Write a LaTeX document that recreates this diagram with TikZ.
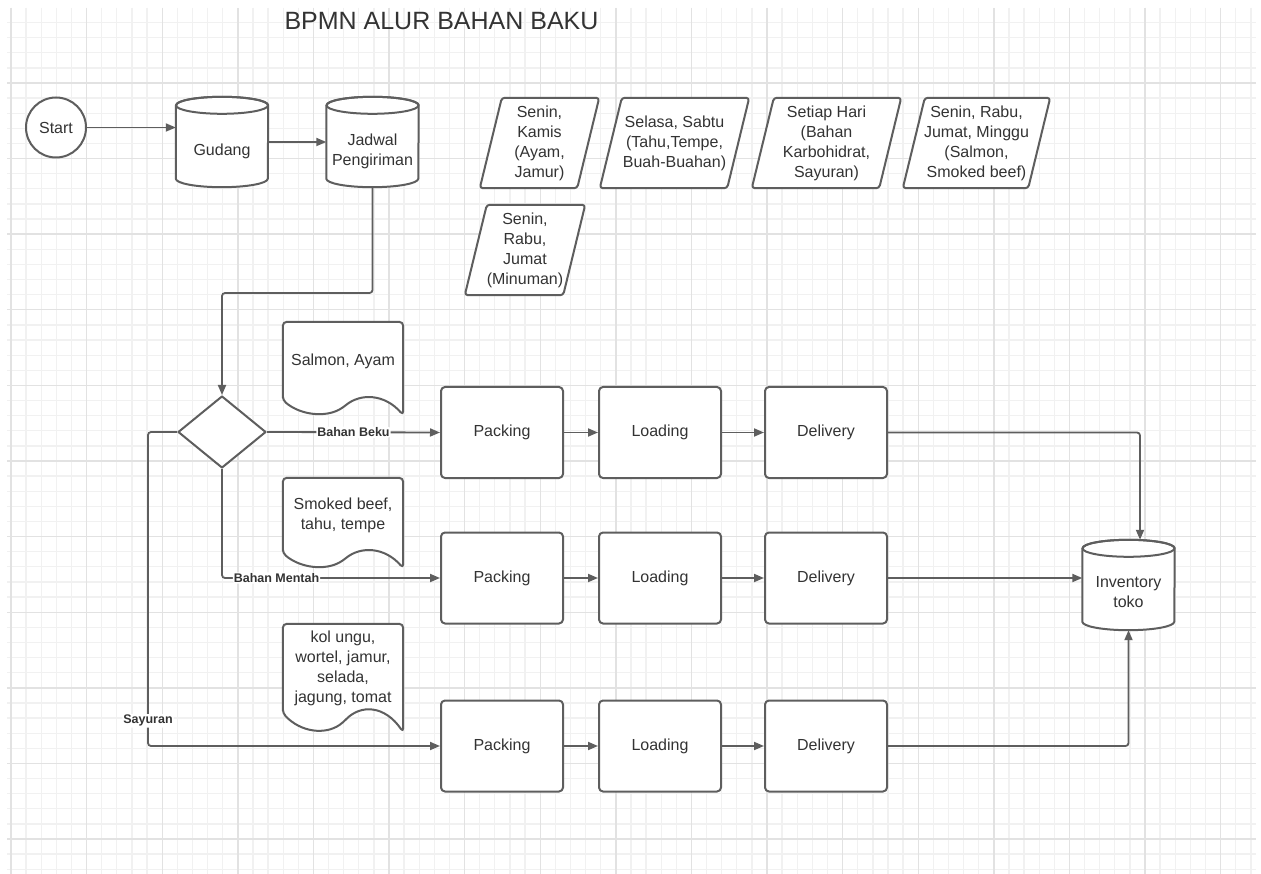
\documentclass[tikz,border=0pt]{standalone}
\usepackage{fontspec}
\setmainfont{Liberation Sans}
\usetikzlibrary{arrows.meta,shapes.geometric,calc}

\definecolor{ink}{HTML}{5E5E5E}
\definecolor{txt}{HTML}{333333}
\definecolor{gridminor}{HTML}{F1F1F1}
\definecolor{gridmajor}{HTML}{E2E2E2}

\pgfdeclarelayer{back}
\pgfdeclarelayer{mid}
\pgfsetlayers{back,mid,main}

% cylinder (data store) outline around a named node, radius 46
\newcommand{\drumoutline}[1]{%
  \draw[shapeline, fill=white] ($(#1.north west)+(0,8.5)$) -- ($(#1.south west)+(0,-8.5)$)
    arc[start angle=180, end angle=0, x radius=46, y radius=8.5]
    -- ($(#1.north east)+(0,8.5)$)
    arc[start angle=0, end angle=-180, x radius=46, y radius=8.5] -- cycle;
  \draw[shapeline] ($(#1.north)+(0,8.5)$) ellipse[x radius=46, y radius=8.5];
}
% document outline with a wavy bottom; #2 = extra drop at the right corner
\newcommand{\docoutline}[2]{%
  \draw[shapeline, fill=white, rounded corners=4pt]
    (#1.south west) -- (#1.north west) -- (#1.north east) -- ($(#1.south east)+(0,#2)$)
    .. controls ($(#1.south west)+(102,{-0.4*#2})$) and ($(#1.south west)+(78,{-0.5*#2})$)
    .. ($(#1.south west)+(60,{0.5*#2})$)
    .. controls ($(#1.south west)+(42,{1.15*#2})$) and ($(#1.south west)+(18,{1.0*#2})$)
    .. cycle;
}
% slanted data (parallelogram) outline
\newcommand{\slantoutline}[1]{%
  \draw[shapeline, fill=white, rounded corners=3pt]
    (#1.south west) -- ($(#1.north west)+(22,0)$) -- (#1.north east)
    -- ($(#1.south east)+(-22,0)$) -- cycle;
}

\begin{document}
\begin{tikzpicture}[x=1pt, y=-1pt,
  body/.style={font=\fontsize{16}{20}\selectfont, text=txt, align=center, inner sep=0pt},
  shapeline/.style={draw=ink, line width=2pt, line join=round},
  stepbox/.style={body, shapeline, fill=white, rounded corners=4pt, minimum width=122pt, minimum height=91pt},
  storage/.style={body, minimum width=92pt, minimum height=90pt},
  slanted/.style={body, minimum height=90pt},
  paper/.style={body, minimum width=120pt},
  flow/.style={draw=ink, line width=1.8pt, rounded corners=3pt, -{Triangle[length=10pt,width=8pt]}},
  lbl/.style={font=\fontsize{12.5}{15}\selectfont\bfseries, text=txt, fill=white, inner sep=1pt},
]
\useasboundingbox (0,0) rectangle (1261,874);

% paper and background grid
\begin{pgfonlayer}{back}
  \fill[white] (0,0) rectangle (1261,874);
  \foreach \i in {0,...,82} {
    \pgfmathsetmacro\gx{11+\i*15.12}
    \draw[gridminor, line width=1.3pt] (\gx,8) -- (\gx,874);
  }
  \foreach \j in {1,...,57} {
    \pgfmathsetmacro\gy{7.4+\j*15.12}
    \draw[gridminor, line width=1.3pt] (7,\gy) -- (1256,\gy);
  }
  \foreach \i in {0,...,16} {
    \pgfmathsetmacro\gx{11+\i*75.6}
    \draw[gridmajor, line width=1.4pt] (\gx,8) -- (\gx,874);
  }
  \foreach \j in {1,...,11} {
    \pgfmathsetmacro\gy{7.4+\j*75.6}
    \draw[gridmajor, line width=1.4pt] (7,\gy) -- (1256,\gy);
  }
\end{pgfonlayer}

% title
\node[font=\fontsize{25}{28}\selectfont, text=txt] (title) at (441.5,21) {BPMN ALUR BAHAN BAKU};

% top row
\node[circle, shapeline, fill=white, body, minimum size=60pt] (start) at (56,127.5) {Start};
\node[storage, label={[body, yshift=-9pt]center:Gudang}] (gud) at (222,142) {};
\node[storage, label={[body, yshift=-9pt]center:Jadwal\\Pengiriman}] (jad) at (372.5,142) {};

% delivery schedules
\node[slanted, minimum width=119pt] (p1) at (539.5,143) {Senin,\\Kamis\\(Ayam,\\Jamur)};
\node[slanted, minimum width=149pt] (p2) at (674.5,143) {Selasa, Sabtu\\(Tahu,Tempe,\\Buah-Buahan)};
\node[slanted, minimum width=149pt] (p3) at (826.5,143) {Setiap Hari\\(Bahan\\Karbohidrat,\\Sayuran)};
\node[slanted, minimum width=147pt] (p4) at (976.5,143) {Senin, Rabu,\\Jumat, Minggu\\(Salmon,\\Smoked beef)};
\node[slanted, minimum width=120pt] (p5) at (525,250) {Senin,\\Rabu,\\Jumat\\(Minuman)};

% decision
\node[diamond, shapeline, fill=white, minimum width=88pt, minimum height=72pt, inner sep=0pt] (dec) at (222,432) {};

% item lists
\node[paper, minimum height=78pt] (d1) at (343,361) {Salmon, Ayam};
\node[paper, minimum height=75pt] (d2) at (343,515.5) {Smoked beef,\\tahu, tempe};
\node[paper, minimum height=89pt] (d3) at (343,668.5) {kol ungu,\\wortel, jamur,\\selada,\\jagung, tomat};

% process rows
\node[stepbox] (pk1) at (502,432.5) {Packing};
\node[stepbox] (ld1) at (660,432.5) {Loading};
\node[stepbox] (dl1) at (826,432.5) {Delivery};
\node[stepbox] (pk2) at (502,578) {Packing};
\node[stepbox] (ld2) at (660,578) {Loading};
\node[stepbox] (dl2) at (826,578) {Delivery};
\node[stepbox] (pk3) at (502,746) {Packing};
\node[stepbox] (ld3) at (660,746) {Loading};
\node[stepbox] (dl3) at (826,746) {Delivery};

% store inventory
\node[storage, label={[body, yshift=-7.5pt]center:Inventory\\toko}] (inv) at (1128.5,585) {};

% shape outlines behind the texts
\begin{pgfonlayer}{mid}
  \drumoutline{gud}
  \drumoutline{jad}
  \drumoutline{inv}
  \slantoutline{p1}
  \slantoutline{p2}
  \slantoutline{p3}
  \slantoutline{p4}
  \slantoutline{p5}
  \docoutline{d1}{15}
  \docoutline{d2}{15}
  \docoutline{d3}{19}
\end{pgfonlayer}

% connectors
\coordinate (jog) at (300,293);
\coordinate (sidebend) at (148,432);
\draw[flow] (start.east) -- (start.east -| gud.west);
\draw[flow] (gud.east) -- (jad.west);
\draw[flow] (jad.south) |- (jog) -| (dec.north);
\draw[flow] (dec.east) -- node[lbl, pos=0.5] {Bahan Beku} (pk1.west);
\draw[flow] (dec.south) |- node[lbl, pos=0.625] {Bahan Mentah} (pk2.west);
\draw[flow] (dec.west) -- (sidebend) |- node[lbl, pos=0.46] {Sayuran} (pk3.west);

\draw[flow] (pk1.east) -- (ld1.west);
\draw[flow] (ld1.east) -- (dl1.west);
\draw[flow] (pk2.east) -- (ld2.west);
\draw[flow] (ld2.east) -- (dl2.west);
\draw[flow] (pk3.east) -- (ld3.west);
\draw[flow] (ld3.east) -- (dl3.west);

\draw[flow] (dl1.east) -| ([xshift=11.5pt]inv.north);
\draw[flow] (dl2.east) -- (dl2.east -| inv.west);
\draw[flow] (dl3.east) -| (inv.south);
\end{tikzpicture}
\end{document}
